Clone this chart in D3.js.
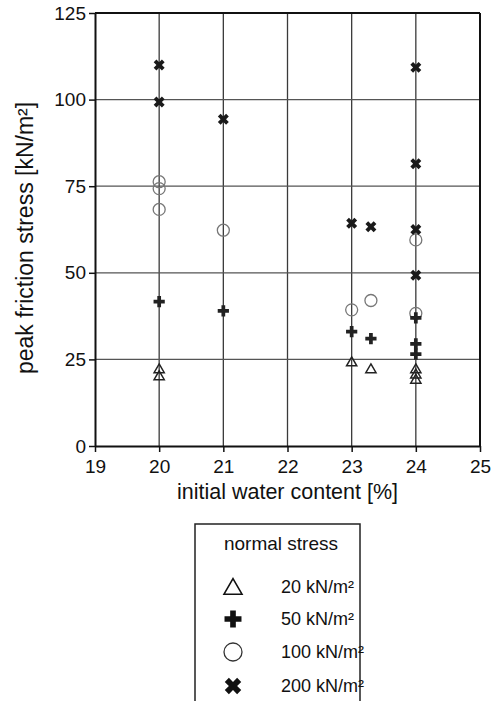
<!DOCTYPE html>
<html>
<head>
<meta charset="utf-8">
<script src="https://cdn.jsdelivr.net/npm/d3@7.8.5/dist/d3.min.js"></script>
<style>
  body { margin: 0; background: #fff; }
  svg { display: block; font-family: "Liberation Sans", Arial, sans-serif; }
</style>
</head>
<body>
<svg width="504" height="701"></svg>
<script>
// data
const xTicks = [19, 20, 21, 22, 23, 24, 25];
const yTicks = [0, 25, 50, 75, 100, 125];

const stress20x = [20, 20, 23, 23.3, 24, 24, 24];
const stress20y = [22, 20, 24, 22, 22, 20.5, 19];

const stress50x = [20, 21, 23, 23.3, 24, 24, 24];
const stress50y = [41.7, 39, 33, 31, 37, 29.5, 26.5];

const stress100x = [20, 20, 20, 21, 23, 23.3, 24, 24];
const stress100y = [76.3, 74.3, 68.3, 62.3, 39.3, 42, 59.5, 38.3];

const stress200x = [20, 20, 21, 23, 23.3, 24, 24, 24, 24];
const stress200y = [110, 99.3, 94.3, 64.3, 63.3, 109.3, 81.5, 62.5, 49.3];

const legendLabels = ["20 kN/m²", "50 kN/m²", "100 kN/m²", "200 kN/m²"];

const svg = d3.select("svg");
const plotL = 95, plotR = 480, plotT = 13, plotB = 446;

const x = d3.scaleLinear().domain([19, 25]).range([plotL, plotR]);
const y = d3.scaleLinear().domain([0, 125]).range([plotB, plotT]);

// grid
svg.append("g")
  .selectAll("line")
  .data(xTicks.slice(1, -1))
  .join("line")
  .attr("x1", (d) => x(d)).attr("x2", (d) => x(d))
  .attr("y1", plotT).attr("y2", plotB)
  .attr("stroke", "#3a3a3a").attr("stroke-width", 1.3);

svg.append("g")
  .selectAll("line")
  .data(yTicks.slice(1, -1))
  .join("line")
  .attr("x1", plotL).attr("x2", plotR)
  .attr("y1", (d) => y(d)).attr("y2", (d) => y(d))
  .attr("stroke", "#555").attr("stroke-width", 1.3);

// axes
const xAxis = svg.append("g")
  .attr("transform", `translate(0,${plotB})`)
  .call(d3.axisBottom(x).tickValues(xTicks).tickFormat(d3.format("d"))
    .tickSize(6).tickPadding(8).tickSizeOuter(0));
const yAxis = svg.append("g")
  .attr("transform", `translate(${plotL},0)`)
  .call(d3.axisLeft(y).tickValues(yTicks).tickFormat(d3.format("d"))
    .tickSize(6).tickPadding(3).tickSizeOuter(0));

[xAxis, yAxis].forEach((g) => {
  g.select(".domain").attr("stroke", "#111").attr("stroke-width", 2);
  g.selectAll(".tick line").attr("stroke", "#111").attr("stroke-width", 1.5);
  g.selectAll(".tick text")
    .attr("font-size", 19)
    .attr("font-family", "Liberation Sans, Arial, sans-serif")
    .attr("fill", "#111");
});

// frame top and right
svg.append("line").attr("x1", plotL).attr("x2", plotR).attr("y1", plotT).attr("y2", plotT)
  .attr("stroke", "#111").attr("stroke-width", 2);
svg.append("line").attr("x1", plotR).attr("x2", plotR).attr("y1", plotT).attr("y2", plotB)
  .attr("stroke", "#111").attr("stroke-width", 2);

// axis titles
svg.append("text")
  .attr("x", (plotL + plotR) / 2).attr("y", 499)
  .attr("text-anchor", "middle")
  .attr("font-size", 21.5)
  .attr("fill", "#111")
  .text("initial water content [%]");

svg.append("text")
  .attr("transform", "translate(33,238) rotate(-90)")
  .attr("text-anchor", "middle")
  .attr("font-size", 23)
  .attr("fill", "#111")
  .text("peak friction stress [kN/m²]");

// marker shapes
const triangle = (s) => d3.symbol(d3.symbolTriangle, s)();
const plus = (s) => d3.symbol(d3.symbolCross, s)();

function zip(xs, ys) {
  return xs.map((v, i) => [v, ys[i]]);
}

const marks = svg.append("g");

marks.selectAll(".c100")
  .data(zip(stress100x, stress100y))
  .join("circle")
  .attr("cx", (d) => x(d[0])).attr("cy", (d) => y(d[1]))
  .attr("r", 6)
  .attr("fill", "none").attr("stroke", "#777").attr("stroke-width", 1.3);

marks.selectAll(".t20")
  .data(zip(stress20x, stress20y))
  .join("path")
  .attr("d", triangle(45))
  .attr("transform", (d) => `translate(${x(d[0])},${y(d[1])})`)
  .attr("fill", "none").attr("stroke", "#222").attr("stroke-width", 1.5);

marks.selectAll(".p50")
  .data(zip(stress50x, stress50y))
  .join("path")
  .attr("d", plus(70))
  .attr("transform", (d) => `translate(${x(d[0])},${y(d[1])})`)
  .attr("fill", "#222");

marks.selectAll(".x200")
  .data(zip(stress200x, stress200y))
  .join("path")
  .attr("d", plus(75))
  .attr("transform", (d) => `translate(${x(d[0])},${y(d[1])}) rotate(45)`)
  .attr("fill", "#1a1a1a");

// legend
const legend = svg.append("g");
legend.append("rect")
  .attr("x", 195).attr("y", 524).attr("width", 165).attr("height", 180)
  .attr("fill", "none").attr("stroke", "#222").attr("stroke-width", 1.5);

legend.append("text")
  .attr("x", 281).attr("y", 550)
  .attr("text-anchor", "middle")
  .attr("font-size", 19)
  .attr("fill", "#111")
  .text("normal stress");

const rowY = [587, 619, 652, 686];
const symX = 233;

legend.append("path").attr("d", triangle(140))
  .attr("transform", `translate(${symX},${rowY[0] + 2})`)
  .attr("fill", "none").attr("stroke", "#111").attr("stroke-width", 1.6);
legend.append("path").attr("d", plus(160))
  .attr("transform", `translate(${symX},${rowY[1]})`)
  .attr("fill", "#111");
legend.append("circle").attr("cx", symX).attr("cy", rowY[2]).attr("r", 9)
  .attr("fill", "none").attr("stroke", "#333").attr("stroke-width", 1.3);
legend.append("path").attr("d", plus(170))
  .attr("transform", `translate(${symX},${rowY[3]}) rotate(45)`)
  .attr("fill", "#111");

legend.selectAll(".lbl")
  .data(legendLabels)
  .join("text")
  .attr("x", 281)
  .attr("y", (d, i) => rowY[i] + 6)
  .attr("font-size", 18)
  .attr("fill", "#111")
  .text((d) => d);
</script>
</body>
</html>
